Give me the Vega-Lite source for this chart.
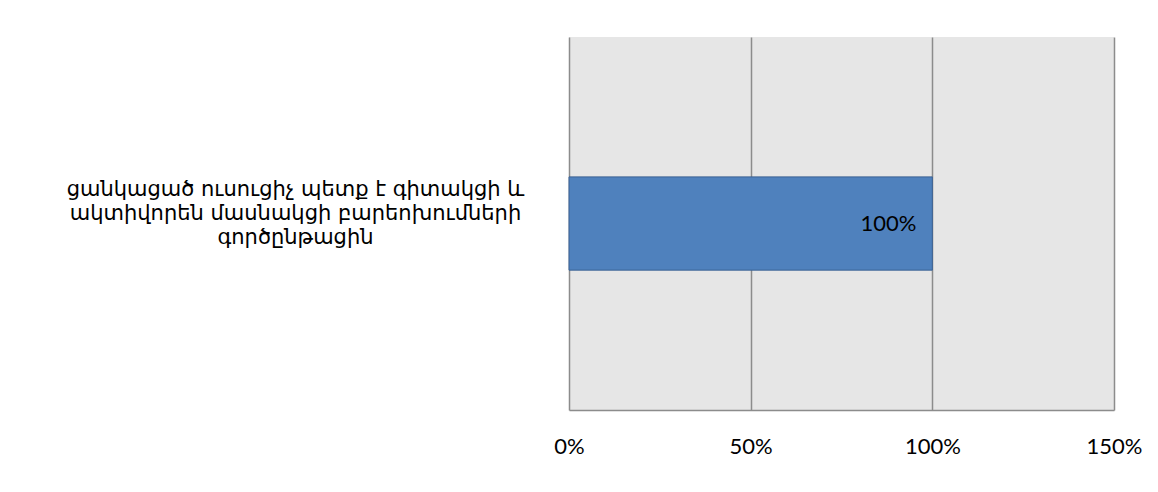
{
  "$schema": "https://vega.github.io/schema/vega-lite/v6.json",
  "autosize": "none",
  "padding": {"left": 569, "top": 37, "right": 44, "bottom": 82},
  "width": 545,
  "height": 373,
  "background": "white",
  "data": {"values": [
    {"statement": "ցանկացած ուսուցիչ պետք է գիտակցի և|ակտիվորեն մասնակցի  բարեոխումների|գործընթացին", "value": 1.0}
  ]},
  "encoding": {
    "y": {"field": "statement", "type": "nominal", "title": null,
      "scale": {"paddingInner": 0.6, "paddingOuter": 0.6},
      "axis": {"ticks": false, "domain": false, "labelAlign": "center", "labelBaseline": "middle",
        "labelPadding": 274, "labelOffset": -34, "labelLimit": 0,
        "labelExpr": "split(datum.label, '|')", "labelLineHeight": 24,
        "labelFont": "DejaVu Sans", "labelFontSize": 21, "labelColor": "#000000"}},
    "x": {"field": "value", "type": "quantitative", "title": null,
      "scale": {"domain": [0, 1.5], "nice": false},
      "axis": {"values": [0, 0.5, 1, 1.5], "format": ".0%", "ticks": false,
        "grid": true, "gridColor": "#8c8c8c", "gridWidth": 1.5,
        "domainColor": "#8c8c8c", "domainWidth": 1.5,
        "labelPadding": 26, "labelFont": "Lato", "labelFontSize": 22, "labelColor": "#000000",
        "labelFlush": false}}
  },
  "layer": [
    {"mark": {"type": "bar", "fill": "#4f81bd", "stroke": "#3a6193", "strokeWidth": 1}},
    {"mark": {"type": "text", "align": "right", "baseline": "middle", "dx": -16, "font": "Lato", "fontSize": 22, "color": "#000000"},
     "encoding": {"text": {"field": "value", "type": "quantitative", "format": ".0%"}}}
  ],
  "config": {
    "view": {"fill": "#e6e6e6", "stroke": null}
  }
}
